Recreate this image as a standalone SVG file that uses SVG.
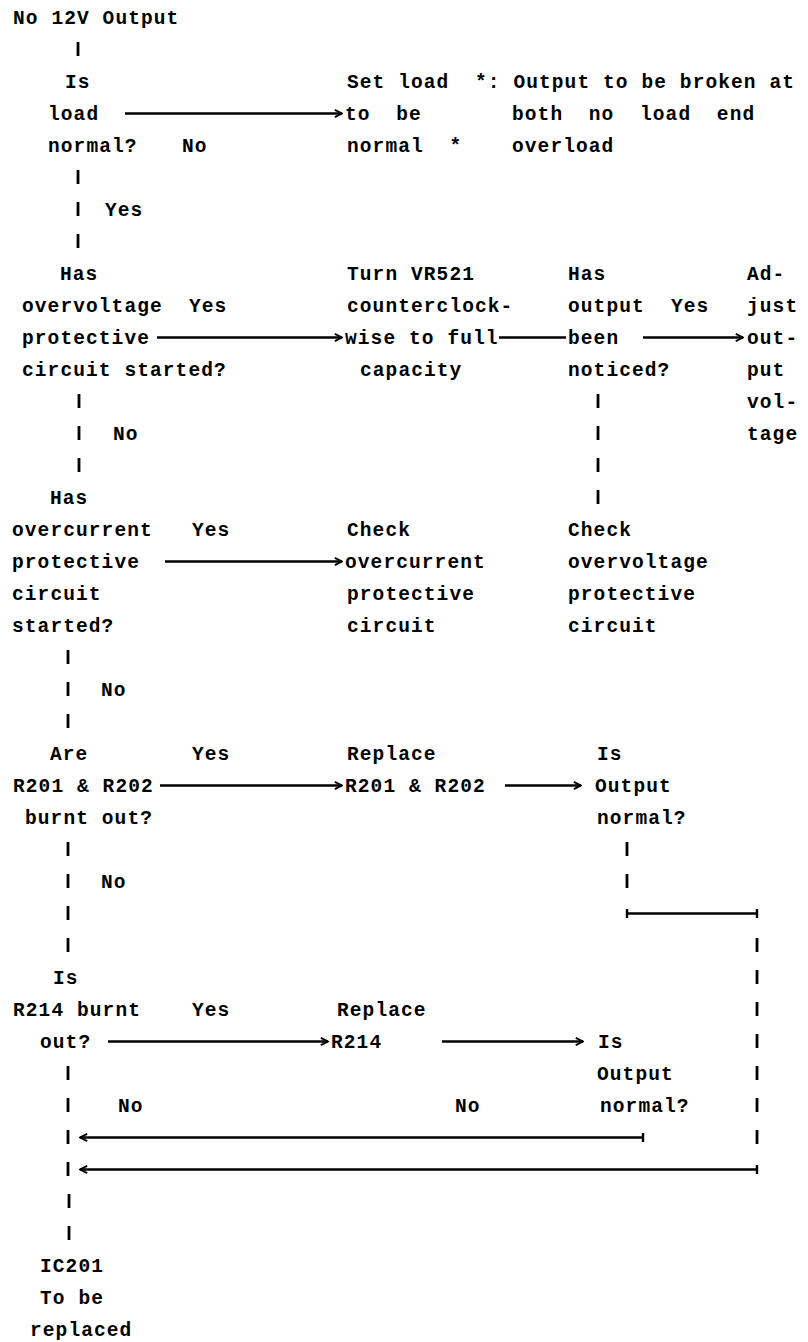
<svg xmlns="http://www.w3.org/2000/svg" width="808" height="1342" viewBox="0 0 808 1342" xml:space="preserve">
<style>
.t{font-family:"Liberation Mono","DejaVu Sans Mono",monospace;font-size:19.5px;font-weight:bold;letter-spacing:1.1px;white-space:pre;fill:#000}
.ln{stroke:#000;stroke-width:2.4;fill:none}
.tk{stroke:#000;stroke-width:2.8;fill:none}
</style>
<defs>
<marker id="arr" viewBox="0 0 10 10" refX="9" refY="5" markerWidth="9" markerHeight="10" markerUnits="userSpaceOnUse" orient="auto">
<path d="M1,1 L9,5 L1,9" fill="none" stroke="#000" stroke-width="2"/>
</marker>
</defs>
<rect width="808" height="1342" fill="#fff"/>
<g id="n-start"><text class="t" x="13" y="24">No 12V Output</text></g>
<g id="n-load"><text class="t" x="65" y="88">Is</text><text class="t" x="48" y="120">load</text><text class="t" x="48" y="152">normal?</text></g>
<g id="n-setload"><text class="t" x="347" y="88">Set load</text><text class="t" x="345" y="120">to  be</text><text class="t" x="347" y="152">normal  *</text></g>
<g id="n-note"><text class="t" x="475" y="88">*: Output to be broken at</text><text class="t" x="512" y="120">both  no  load  end</text><text class="t" x="512" y="152">overload</text></g>
<g id="n-ovp"><text class="t" x="60" y="280">Has</text><text class="t" x="22" y="312">overvoltage</text><text class="t" x="22" y="344">protective</text><text class="t" x="22" y="376">circuit started?</text></g>
<g id="n-turn"><text class="t" x="347" y="280">Turn VR521</text><text class="t" x="347" y="312">counterclock-</text><text class="t" x="345" y="344">wise to full</text><text class="t" x="360" y="376">capacity</text></g>
<g id="n-noticed"><text class="t" x="568" y="280">Has</text><text class="t" x="568" y="312">output</text><text class="t" x="568" y="344">been</text><text class="t" x="568" y="376">noticed?</text></g>
<g id="n-adjust"><text class="t" x="747" y="280">Ad-</text><text class="t" x="747" y="312">just</text><text class="t" x="747" y="344">out-</text><text class="t" x="747" y="376">put</text><text class="t" x="747" y="408">vol-</text><text class="t" x="747" y="440">tage</text></g>
<g id="n-ocp"><text class="t" x="50" y="504">Has</text><text class="t" x="12" y="536">overcurrent</text><text class="t" x="12" y="568">protective</text><text class="t" x="12" y="600">circuit</text><text class="t" x="12" y="632">started?</text></g>
<g id="n-checkocp"><text class="t" x="347" y="536">Check</text><text class="t" x="345" y="568">overcurrent</text><text class="t" x="347" y="600">protective</text><text class="t" x="347" y="632">circuit</text></g>
<g id="n-checkovp"><text class="t" x="568" y="536">Check</text><text class="t" x="568" y="568">overvoltage</text><text class="t" x="568" y="600">protective</text><text class="t" x="568" y="632">circuit</text></g>
<g id="n-r201"><text class="t" x="50" y="760">Are</text><text class="t" x="13" y="792">R201 &amp; R202</text><text class="t" x="25" y="824">burnt out?</text></g>
<g id="n-replace201"><text class="t" x="347" y="760">Replace</text><text class="t" x="345" y="792">R201 &amp; R202</text></g>
<g id="n-out1"><text class="t" x="597" y="760">Is</text><text class="t" x="595" y="792">Output</text><text class="t" x="597" y="824">normal?</text></g>
<g id="n-r214"><text class="t" x="53" y="984">Is</text><text class="t" x="13" y="1016">R214 burnt</text><text class="t" x="40" y="1048">out?</text></g>
<g id="n-replace214"><text class="t" x="337" y="1016">Replace</text><text class="t" x="331" y="1048">R214</text></g>
<g id="n-out2"><text class="t" x="598" y="1048">Is</text><text class="t" x="597" y="1080">Output</text><text class="t" x="600" y="1112">normal?</text></g>
<g id="n-ic201"><text class="t" x="40" y="1272">IC201</text><text class="t" x="40" y="1304">To be</text><text class="t" x="30" y="1336">replaced</text></g>
<g id="connectors">
<path class="tk" d="M78,42 V56 M78,170 V184 M78,202 V216 M78,234 V248 M79,394 V408 M79,426 V440 M79,458 V472 M598,394 V408 M598,426 V440 M598,458 V472 M598,490 V504 M68,650 V664 M68,682 V696 M68,714 V728 M68,842 V856 M68,874 V888 M68,906 V920 M68,938 V952 M68,1066 V1080 M68,1098 V1112 M68,1130 V1144 M68,1162 V1176 M69,1194 V1208 M69,1226 V1240 M627,842 V856 M627,874 V888 M757,938 V952 M757,970 V984 M757,1002 V1016 M757,1034 V1048 M757,1066 V1080 M757,1098 V1112 M757,1130 V1144"/>
<path class="ln" d="M627,909 V918 M757,909 V918 M643,1133 V1142 M757,1165 V1174"/>
<line class="ln" x1="125" y1="113.5" x2="342" y2="113.5" marker-end="url(#arr)"/>
<line class="ln" x1="157" y1="337.5" x2="342" y2="337.5" marker-end="url(#arr)"/>
<line class="ln" x1="499" y1="337.5" x2="566" y2="337.5"/>
<line class="ln" x1="643" y1="337.5" x2="743" y2="337.5" marker-end="url(#arr)"/>
<line class="ln" x1="165" y1="561.5" x2="342" y2="561.5" marker-end="url(#arr)"/>
<line class="ln" x1="160" y1="785.5" x2="342" y2="785.5" marker-end="url(#arr)"/>
<line class="ln" x1="505" y1="785.5" x2="581" y2="785.5" marker-end="url(#arr)"/>
<line class="ln" x1="627" y1="913.5" x2="757" y2="913.5"/>
<line class="ln" x1="108" y1="1041.5" x2="328" y2="1041.5" marker-end="url(#arr)"/>
<line class="ln" x1="442" y1="1041.5" x2="583" y2="1041.5" marker-end="url(#arr)"/>
<line class="ln" x1="643" y1="1137.5" x2="80" y2="1137.5" marker-end="url(#arr)"/>
<line class="ln" x1="757" y1="1169.5" x2="80" y2="1169.5" marker-end="url(#arr)"/>
<text class="t" x="182" y="152">No</text>
<text class="t" x="105" y="216">Yes</text>
<text class="t" x="189" y="312">Yes</text>
<text class="t" x="671" y="312">Yes</text>
<text class="t" x="113" y="440">No</text>
<text class="t" x="192" y="536">Yes</text>
<text class="t" x="101" y="696">No</text>
<text class="t" x="192" y="760">Yes</text>
<text class="t" x="101" y="888">No</text>
<text class="t" x="192" y="1016">Yes</text>
<text class="t" x="118" y="1112">No</text>
<text class="t" x="455" y="1112">No</text>
</g>
</svg>
